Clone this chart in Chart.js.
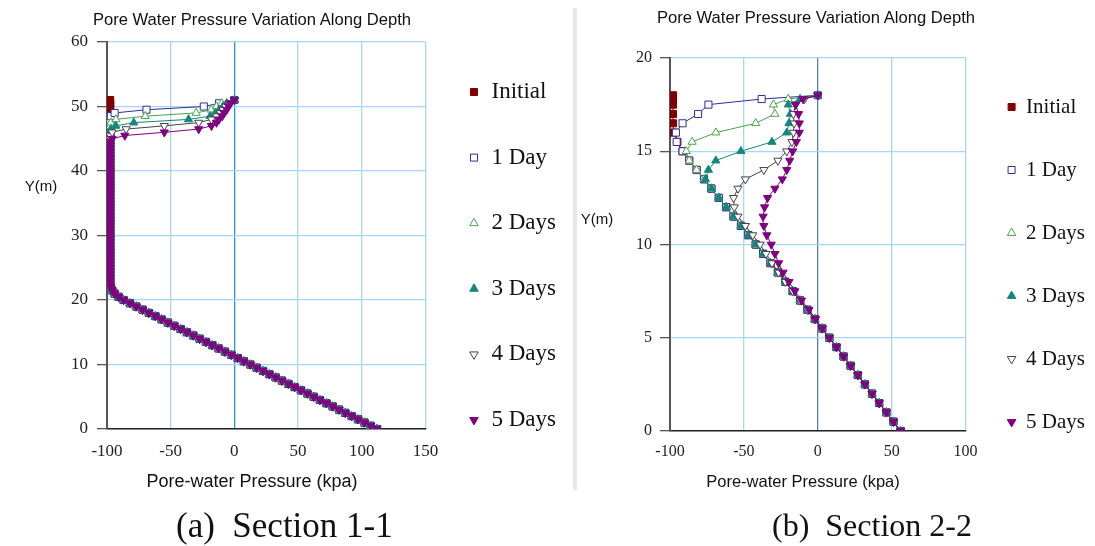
<!DOCTYPE html>
<html>
<head>
<meta charset="utf-8">
<script src="https://cdn.jsdelivr.net/npm/chart.js@4.4.1/dist/chart.umd.min.js"></script>
<style>
  body { margin: 0; background: #fff; width: 1095px; height: 546px; position: relative; overflow: hidden; }
  canvas { position: absolute; top: 0; }
  #chart1 { left: 0; }
  #chart2 { left: 575px; }
  .lbl { position: absolute; white-space: pre; line-height: 1; color: #111; transform: translate(-50%, -50%); font-family: "Liberation Sans", Arial, sans-serif; }
  .cap { position: absolute; white-space: pre; line-height: 1; color: #111; font-family: "Liberation Serif", "Times New Roman", serif; transform: translateY(-50%); }
  #divider { position: absolute; left: 573px; top: 8px; width: 4px; height: 482px; background: #e8e8e8; }
</style>
</head>
<body>
<canvas id="chart1" width="575" height="512"></canvas>
<canvas id="chart2" width="520" height="529"></canvas>
<div id="divider"></div>

<div class="lbl" style="left:252px;top:20px;font-size:16.6px">Pore Water Pressure Variation Along Depth</div>
<div class="lbl" style="left:816px;top:18px;font-size:16.6px">Pore Water Pressure Variation Along Depth</div>
<div class="lbl" style="left:41px;top:185px;font-size:15px">Y(m)</div>
<div class="lbl" style="left:597px;top:218px;font-size:15px">Y(m)</div>
<div class="lbl" style="left:252px;top:481px;font-size:18px">Pore-water Pressure (kpa)</div>
<div class="lbl" style="left:803px;top:481px;font-size:16.5px">Pore-water Pressure (kpa)</div>
<div class="cap" style="left:176px;top:525px;font-size:35px">(a)  Section 1-1</div>
<div class="cap" style="left:772px;top:525px;font-size:32px">(b)  Section 2-2</div>

<script>
// ---- Section 1-1 : depth nodes (m) and pore-water pressure (kPa) ----
const depthA = [0,0.5,1,1.5,2,2.5,3,3.5,4,4.5,5,5.5,6,6.5,7,7.5,8,8.5,9,9.5,
  10,10.5,11,11.5,12,12.5,13,13.5,14,14.5,15,15.5,16,16.5,17,17.5,18,18.5,19,19.5,
  20,20.5,21,21.5,22,22.5,23,23.5,24,24.5,25,25.5,26,26.5,27,27.5,28,28.5,29,29.5,
  30,30.5,31,31.5,32,32.5,33,33.5,34,34.5,35,35.5,36,36.5,37,37.5,38,38.5,39,39.5,
  40,40.5,41,41.5,42,42.5,43,43.5,44,44.5,45,45.5,46,46.5,47,47.5,48,48.5,49,49.5,
  50,50.5,51];

// pressures shared by every stage from 0 m to 44.5 m
const baseA = [112,107.0,102.1,97.1,92.1,87.1,82.2,77.2,72.2,67.2,
  62.3,57.3,52.3,47.3,42.4,37.4,32.4,27.4,22.5,17.5,
  12.5,7.5,2.6,-2.4,-7.4,-12.4,-17.4,-22.3,-27.3,-32.3,
  -37.3,-42.2,-47.2,-52.2,-57.2,-62.1,-67.1,-72.1,-77.1,-82.0,
  -87.0,-91.0,-94.0,-96.0,-97.0,-97.5,-97.5,-97.5,-97.5,-97.5,
  -97.5,-97.5,-97.5,-97.5,-97.5,-97.5,-97.5,-97.5,-97.5,-97.5,
  -97.5,-97.5,-97.5,-97.5,-97.5,-97.5,-97.5,-97.5,-97.5,-97.5,
  -97.5,-97.5,-97.5,-97.5,-97.5,-97.5,-97.5,-97.5,-97.5,-97.5,
  -97.5,-97.5,-97.5,-97.5,-97.5,-97.5,-97.5,-97.5,-97.5,-97.5];

// pressures from 45 m to 51 m for each stage
const initialTopA = [-97.5,-97.5,-97.5,-97.5,-97.5,-97.5,-97.5,-97.5,-97.5,-97.5,-97.5,-97.5,-97.5];
const day1TopA = [-97.5,-97.5,-97.5,-97.5,-97.5,-97.5,-97.5,-97,-94,-69,-24,-12,0];
const day2TopA = [-97.5,-97.5,-97.5,-97.5,-97.5,-97,-93,-70,-30,-18,-14,-10,0];
const day3TopA = [-97.5,-97.5,-97.5,-97,-93,-79,-36,-19,-15,-12,-9,-6,0];
const day4TopA = [-97.5,-97.5,-96,-85,-55,-28,-18,-14,-11,-9,-7,-4,0];
const day5TopA = [-96,-86,-55,-28,-18,-14,-12,-9.5,-8,-6,-4.5,-3,0];

// ---- Section 2-2 ----
const depthB = [0,0.5,1,1.5,2,2.5,3,3.5,4,4.5,5,5.5,6,6.5,7,7.5,8,8.5,9,9.5,
  10,10.5,11,11.5,12,12.5,13,13.5,14,14.5,15,15.5,16,16.5,17,17.5,17.8,18];

// pressures shared by every stage from 0 m to 5 m
const baseB = [56.0,51.2,46.4,41.5,36.7,31.9,27.1,22.2,17.4,12.6,7.8];

// pressures from 5.5 m to 18 m for each stage
const initialTopB = [3.0,-2,-7,-12,-17,-22,-27,-32,-37,-42,-47,-52,-57,-62,-67,-72,-77,-82,-87,-91.5,-95,-97.5,-98,-98,-98,-98,-98];
const day1TopB = [3.0,-2,-7,-12,-17,-22,-27,-32,-37,-42,-47,-52,-57,-62,-67,-72,-77,-82,-87,-91.5,-95.5,-96,-91.5,-81,-74,-38,0];
const day2TopB = [3.0,-2,-7,-12,-17,-22,-27,-32,-37,-42,-47,-52,-57,-62,-67,-72,-77,-82,-87,-89,-85,-69,-42,-29,-30,-20,0];
const day3TopB = [3.0,-2,-7,-12,-17,-22,-27,-32,-37,-42,-47,-52,-57,-62,-67,-72,-76,-74,-69,-52,-31,-21,-19.5,-18.5,-20,-12,0];
const day4TopB = [3.0,-2,-7,-12,-17,-22,-26.5,-31,-35,-39,-44,-49,-54,-56.5,-57,-54,-49,-36.5,-27,-21,-17.5,-16.5,-16,-16.5,-15,-9,0];
const day5TopB = [3.0,-1.5,-6,-11,-15.5,-19.5,-23.5,-26.5,-29,-31.5,-34.5,-36.5,-37,-36,-34,-29,-24,-21,-19,-17,-14.5,-12.5,-12.5,-13,-15,-10,0];

const stageLabels = ['Initial', '1 Day', '2 Days', '3 Days', '4 Days', '5 Days'];

const stageStyles = [
  { color: '#800000', fill: '#800000', shape: 'rect', rot: 0, r: 5 },
  { color: '#2e2e9a', fill: '#ffffff', shape: 'rect', rot: 0, r: 5 },
  { color: '#4aa34a', fill: '#ffffff', shape: 'triangle', rot: 0, r: 4.7 },
  { color: '#13877e', fill: '#13877e', shape: 'triangle', rot: 0, r: 4.7 },
  { color: '#444444', fill: '#ffffff', shape: 'triangle', rot: 180, r: 4.7 },
  { color: '#800080', fill: '#800080', shape: 'triangle', rot: 180, r: 4.7 }
];

const toPoints = (depth, base, top) =>
  depth.map((y, i) => ({ x: i < base.length ? base[i] : top[i - base.length], y }));

const makeChart = (canvasId, depth, base, tops, cfg) => {
  const datasets = tops.map((top, k) => {
    const s = stageStyles[k];
    return {
      label: stageLabels[k],
      data: toPoints(depth, base, top),
      showLine: true,
      borderColor: s.color,
      backgroundColor: s.fill,
      borderWidth: 1,
      pointStyle: s.shape,
      pointRotation: s.rot,
      pointRadius: s.r,
      pointBorderWidth: 1,
      pointBorderColor: s.color,
      pointBackgroundColor: s.fill,
      order: tops.length - 1 - k
    };
  });

  return new Chart(document.getElementById(canvasId).getContext('2d'), {
    type: 'scatter',
    data: { datasets },
    options: {
      responsive: false,
      animation: false,
      devicePixelRatio: 1,
      layout: { padding: { top: 0, left: 0, bottom: 0, right: cfg.padRight } },
      plugins: {
        tooltip: { enabled: false },
        legend: {
          position: 'right',
          align: 'center',
          labels: {
            usePointStyle: true,
            boxWidth: cfg.boxWidth,
            boxHeight: 7,
            padding: cfg.legendGap,
            color: '#111',
            font: { family: 'Liberation Serif', size: cfg.legendSize },
            sort: (a, b) => a.datasetIndex - b.datasetIndex
          }
        }
      },
      scales: {
        x: {
          type: 'linear',
          min: cfg.xMin,
          max: cfg.xMax,
          ticks: {
            stepSize: 50,
            padding: cfg.xPad,
            color: '#1c1c2a',
            font: { family: 'Liberation Serif', size: cfg.tickSize }
          },
          grid: {
            color: (c) => (c.tick && c.tick.value === 0 ? cfg.zeroColor : '#a6d7f2'),
            lineWidth: 1.3,
            drawTicks: false
          },
          border: { color: '#222', width: 1.5 },
          afterFit: (s) => { s.height = cfg.xHeight; }
        },
        // empty band above the plot, reserves the room where the title sits
        xTop: {
          type: 'linear',
          position: 'top',
          grid: { display: false, drawTicks: false },
          ticks: { display: false },
          border: { display: false },
          afterFit: (s) => { s.height = cfg.topHeight; }
        },
        y: {
          type: 'linear',
          min: 0,
          max: cfg.yMax,
          ticks: {
            stepSize: cfg.yStep,
            padding: cfg.yPad,
            color: '#1c1c2a',
            font: { family: 'Liberation Serif', size: cfg.tickSize }
          },
          grid: { color: '#a6d7f2', lineWidth: 1.3, tickColor: '#555', tickLength: 10 },
          border: { color: '#555', width: 2 },
          afterFit: (s) => { s.width = cfg.yWidth; }
        }
      }
    }
  });
};

makeChart('chart1', depthA, baseA,
  [initialTopA, day1TopA, day2TopA, day3TopA, day4TopA, day5TopA],
  { xMin: -100, xMax: 150, yMax: 60, yStep: 10, tickSize: 17, xPad: 12, yPad: 9,
    zeroColor: '#2a92d6', xHeight: 83, topHeight: 42, yWidth: 107, padRight: 9,
    legendSize: 23, legendGap: 42.6, boxWidth: 12 });

makeChart('chart2', depthB, baseB,
  [initialTopB, day1TopB, day2TopB, day3TopB, day4TopB, day5TopB],
  { xMin: -100, xMax: 100, yMax: 20, yStep: 5, tickSize: 16, xPad: 11, yPad: 8,
    zeroColor: '#5b7fb2', xHeight: 98, topHeight: 58, yWidth: 95, padRight: 0,
    legendSize: 21, legendGap: 42, boxWidth: 8 });
</script>
</body>
</html>
